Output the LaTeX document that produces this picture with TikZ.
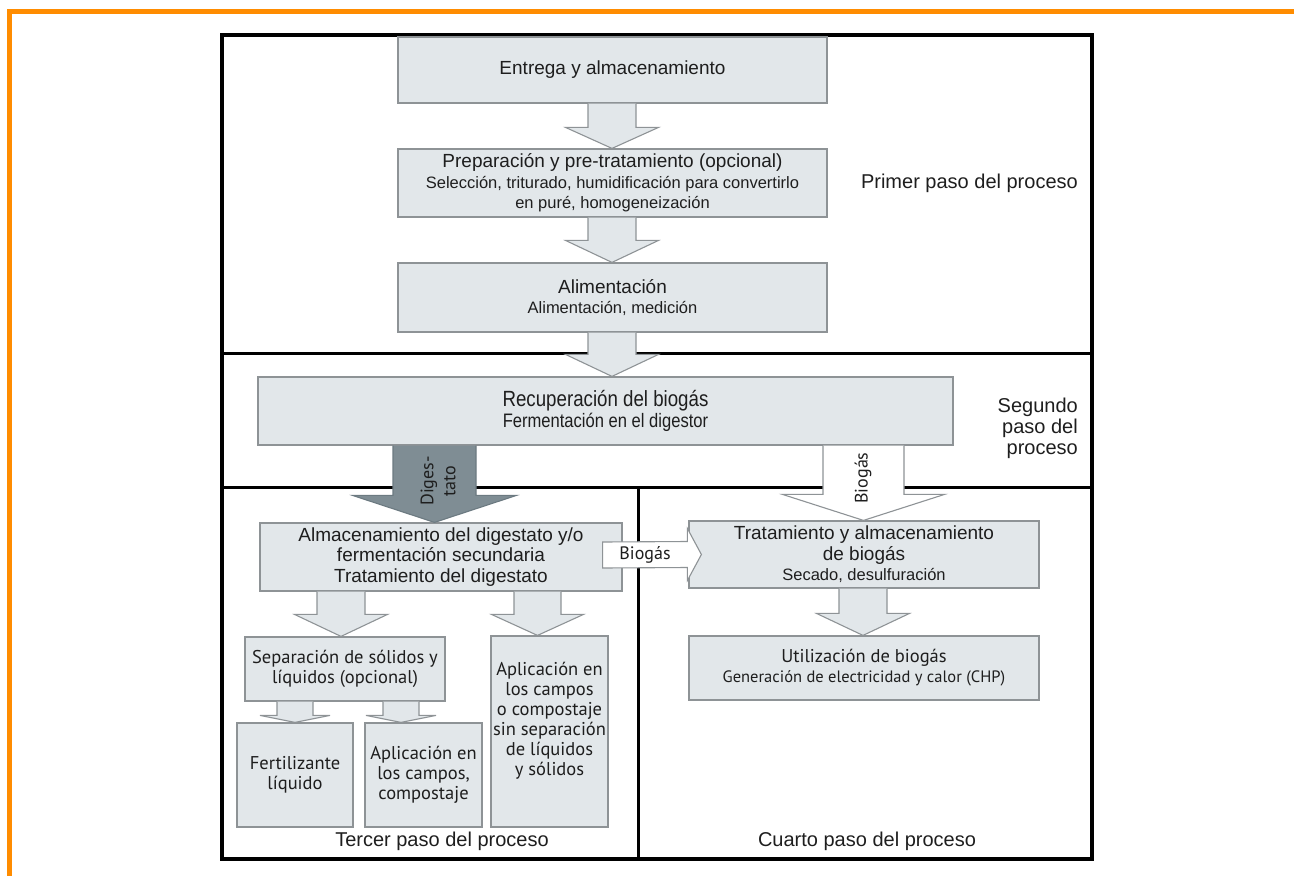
\documentclass[tikz,border=0pt]{standalone}
\usepackage{fontspec}
\setmainfont{Liberation Sans}
\newfontfamily\narrowfont[FakeStretch=0.85]{Liberation Sans}
\newfontfamily\humanfont{PT Sans}
\usetikzlibrary{calc,backgrounds}
\usepackage{xcolor}
\definecolor{boxfill}{HTML}{E2E7EA}
\definecolor{boxline}{HTML}{8E9396}
\definecolor{digfill}{HTML}{7F8D94}
\definecolor{digline}{HTML}{6C7A81}
\definecolor{frameorange}{HTML}{FF8C00}
\definecolor{ink}{HTML}{1E1E1E}
\newcommand{\headfont}{\fontsize{19}{20.5}\selectfont}
\newcommand{\subfont}{\fontsize{16.5}{20.5}\selectfont}
\newcommand{\humhead}{\humanfont\fontsize{18.5}{20}\selectfont}
\newcommand{\humsub}{\humanfont\fontsize{16.5}{20}\selectfont}
\newcommand{\pasofont}{\fontsize{20}{21}\selectfont}
% block arrow pointing down: style, x, from, to, half shaft, half head, head length
\newcommand{\blockdown}[7]{%
  \coordinate (ba) at (#2,0 |- #3);
  \coordinate (bb) at (#2,0 |- #4);
  \draw[#1] ([xshift=-#5pt]ba) -- ([xshift=-#5pt,yshift=#7pt]bb)
    -- ([xshift=-#6pt,yshift=#7pt]bb) -- (bb)
    -- ([xshift=#6pt,yshift=#7pt]bb) -- ([xshift=#5pt,yshift=#7pt]bb)
    -- ([xshift=#5pt]ba);
}
\tikzset{
  stage/.style={draw=boxline,fill=boxfill,line width=1.2pt,align=center,
    inner sep=0pt,text=ink,font=\headfont},
  humstage/.style={stage,font=\humhead},
  flow/.style={draw=boxline,fill=boxfill,line width=1.1pt,line join=miter},
  flowwhite/.style={draw=boxline,fill=white,line width=1.1pt,line join=miter},
  flowdark/.style={draw=digline,fill=digfill,line width=1.1pt,line join=miter},
  frameline/.style={draw=black,line width=3pt},
  pasolbl/.style={font=\pasofont,text=ink,inner sep=0pt},
  arrowlbl/.style={font=\humanfont\fontsize{18}{22}\selectfont,text=ink,inner sep=0pt}
}

\begin{document}
\begin{tikzpicture}[x=1pt,y=-1pt]
\useasboundingbox (0,0) rectangle (1294,876);
% orange page corner
\draw[frameorange,line width=5pt] (1294,11.5) -- (9.5,11.5) -- (9.5,876);

% first step
\node[stage,minimum width=429pt,minimum height=66pt] (entrega) at (612.5,70)
  {Entrega y almacenamiento};
\node[stage,minimum width=429pt,minimum height=68pt] (prep) at (612.5,183)
  {Preparación y pre-tratamiento (opcional)\\
   \subfont Selección, triturado, humidificación para convertirlo\\
   \subfont en puré, homogeneización};
\node[stage,minimum width=429pt,minimum height=69pt] (alim) at (612.5,297.5)
  {Alimentación\\ \subfont Alimentación, medición};
\node[pasolbl,anchor=east] (paso1) at (1078,183) {Primer paso del proceso};

% second step
\node[stage,minimum width=695pt,minimum height=68pt] (recup) at (605.5,411)
  {\narrowfont\fontsize{22}{20.5}\selectfont Recuperación del biogás\\
   \narrowfont\fontsize{19.5}{20.5}\selectfont Fermentación en el digestor};
\node[pasolbl,align=right,anchor=east] (paso2) at (1078,428)
  {Segundo\\paso del\\proceso};

% third step
\node[stage,minimum width=362pt,minimum height=68pt] (digest) at (441,557)
  {Almacenamiento del digestato y/o\\
   fermentación secundaria\\
   Tratamiento del digestato};
\node[humstage,minimum width=200pt,minimum height=64pt] (sep) at (345,669)
  {Separación de sólidos y\\ líquidos (opcional)};
\node[humstage,minimum width=116pt,minimum height=104pt] (fert) at (295,775)
  {Fertilizante\\ líquido};
\node[humstage,minimum width=117pt,minimum height=104pt] (aplic) at (423.5,775)
  {Aplicación en\\ los campos,\\ compostaje};
\node[humstage,minimum width=117pt,minimum height=191pt] (direct) at (549.5,731.5)
  {Aplicación en\\ los campos\\ o compostaje\\ sin separación\\ de líquidos\\
   y sólidos\\[6pt]};
\node[pasolbl] (paso3) at (442,841) {Tercer paso del proceso};

% fourth step
\node[stage,minimum width=350pt,minimum height=67pt] (trat) at (864,554.5)
  {Tratamiento y almacenamiento\\ de biogás\\
   \subfont Secado, desulfuración};
\node[humstage,minimum width=350pt,minimum height=64pt] (util) at (864,668)
  {Utilización de biogás\\
   \humsub Generación de electricidad y calor (CHP)};
\node[pasolbl] (paso4) at (867,841) {Cuarto paso del proceso};

% panels
\begin{scope}[on background layer]
\draw[frameline] (222,353) -- (1092,353);
\draw[frameline] (222,487) -- (1092,487);
\draw[frameline] (638,487) -- (638,859);
\draw[black,line width=4pt] (222,35) rectangle (1092,859);
\end{scope}

% block arrows
\blockdown{flow}{612}{entrega.south}{prep.north}{24}{46.5}{21}
\blockdown{flow}{612}{prep.south}{alim.north}{24}{46.5}{22}
\blockdown{flow}{612}{alim.south}{recup.north}{24}{46.5}{22}
\blockdown{flowdark}{434.5}{recup.south}{digest.north}{41.5}{82}{27}
\blockdown{flowwhite}{863.5}{recup.south}{trat.north}{40.5}{81}{26}
\blockdown{flow}{341}{digest.south}{sep.north}{24}{46.5}{22}
\blockdown{flow}{537.5}{digest.south}{direct.north}{23.5}{46}{21}
\blockdown{flow}{295}{sep.south}{fert.north}{18}{35}{7}
\blockdown{flow}{401}{sep.south}{aplic.north}{18}{35}{7}
\blockdown{flow}{863}{trat.south}{util.north}{24}{46.5}{22}
\node[arrowlbl,rotate=90,align=center] (digtxt) at (438,481) {Diges-\\tato};
\node[arrowlbl,rotate=90] (gastxt) at (863,478) {Biogás};

% biogas from digestate to treatment
\coordinate (ha) at ($(digest.east)+(-20,-2)$);
\coordinate (hb) at ($(trat.west)+(13,0)$);
\draw[flowwhite] ($(ha)+(0,-13)$) -- ($(hb)+(-14,-13)$) -- ($(hb)+(-14,-26)$)
  -- (hb) -- ($(hb)+(-14,26)$) -- ($(hb)+(-14,13)$) -- ($(ha)+(0,13)$) -- cycle;
\node[arrowlbl] (gastxt2) at ($(ha)!0.5!(hb)+(-7,0)$) {Biogás};
\end{tikzpicture}
\end{document}
